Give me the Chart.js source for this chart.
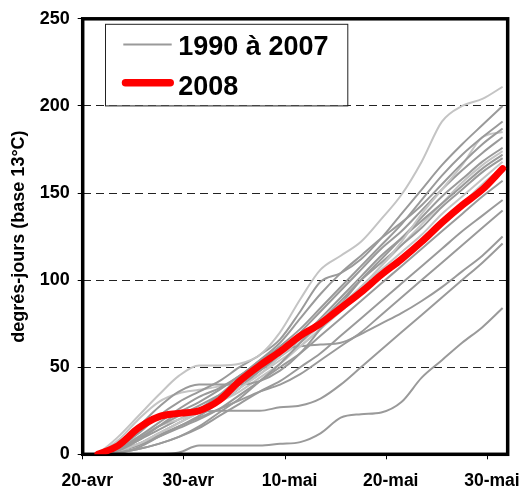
<!DOCTYPE html>
<html><head><meta charset="utf-8">
<script src="https://cdn.jsdelivr.net/npm/chart.js@4"></script>
<style>html,body{margin:0;padding:0;background:#fff;}#wrap{width:527px;height:491px;position:relative;}</style>
</head><body><div id="wrap"><canvas id="c" width="527" height="491"></canvas></div>
<script>
// Days counted from 20 April (0 = 20-avr)
const days = [1.5,3.5,5.5,7.5,9.5,11.5,13.5,15.5,17.5,19.5,21.5,23.5,25.5,27.5,29.5,31.5,33.5,35.5,37.5,39.5,41.5];
const tickValues = [0,10,20,30,40];
const tickLabels = ['20-avr','30-avr','10-mai','20-mai','30-mai'];
const yTickValues = [0,50,100,150,200,250];

const y2008 = [0,5,15,21.5,23.5,25,31,42,51,59,68,75,84,93,103,112,122,133,143,152,164];

const s1  = [0,10,22,34,45,51,51,52,57,70,89,106,114,122,135,149,168,191,200,204,211];
const s2  = [0,4,12,22,30,36,42,50,57,66,82,99,104,112,124,138,152,166,178,189,200];
const s3  = [0,2,8,16,24,30,37,45,53,62,72,84,96,108,120,132,146,160,172,182,191];
const s4  = [0,3,10,18,26,33,38,45,54,64,78,92,104,114,124,133,143,155,167,178,187];
const s5  = [0,2,6,12,18,24,30,38,46,56,66,76,86,96,108,122,138,152,166,182,185];
const s6  = [0,1,4,10,16,22,30,38,48,58,70,82,94,106,118,128,140,152,163,173,182];
const s7  = [0,6,16,27,36,40,40,40,42,48,58,72,86,100,112,124,136,148,158,168,176];
const s8  = [0,3,9,16,22,28,34,40,48,56,66,78,90,102,114,124,134,144,154,164,172];
const s9  = [0,1,3,6,10,16,24,32,42,52,64,76,88,100,110,120,130,142,152,162,170];
const s10 = [0,2,6,12,18,24,30,36,44,52,62,72,84,96,106,116,126,138,148,158,168];
const s11 = [0,4,10,16,20,24,30,38,46,54,62,72,82,92,102,112,122,134,144,155,165];
const s12 = [0,2,5,10,15,20,26,34,42,50,58,68,78,88,98,108,118,128,138,148,157];
const s13 = [0,1,3,6,10,15,22,29,36,42,50,58,68,78,88,98,108,118,128,137,146];
const s14 = [0,2,6,11,16,21,26,31,36,40,46,54,62,70,80,90,100,110,120,130,140];
const s15 = [0,3,8,14,20,26,34,44,54,60,62,63,64,69,75,81,88,96,105,114,125];
const s16 = [0,2,6,12,18,24,25,25,25,27,28,32,40,50,60,70,80,90,100,110,121];
const s17 = [0,0,0,0,1,5,5,5,5,6,7,12,21,23,24,30,44,54,64,73,84];
const s18 = [0,8,20,30,35,37,39,42,48,56,64,74,84,96,108,120,132,144,156,166,174];

const grayYears = [s1,s2,s3,s4,s5,s6,s7,s8,s9,s10,s11,s12,s13,s14,s15,s16,s17,s18];
const grayLabel = '1990 à 2007';
const redLabel = '2008';

// styles
const DARK = '#9a9a9a', LIGHT = '#c4c4c4', RED = '#ff0000';
const lightSet = new Set([0,4,9,10,17]);
const FONT = "'Liberation Sans', Arial, sans-serif";

const toPts = arr => arr.map((v,i)=>({x:days[i], y:v}));

const datasets = [{
  label: redLabel, data: toPts(y2008), borderColor: RED, borderWidth: 7,
  borderCapStyle:'round', borderJoinStyle:'round', pointRadius:0, order:0,
  cubicInterpolationMode:'monotone', fill:false
}];
grayYears.forEach((arr,i)=>{
  datasets.push({label: grayLabel, data: toPts(arr), borderColor: lightSet.has(i)?LIGHT:DARK,
    borderWidth: 2, pointRadius:0, order:1, cubicInterpolationMode:'monotone', fill:false,
    borderJoinStyle:'round'});
});

const framePlugin = {
  id:'frame',
  beforeDatasetDraw(chart, args){
    if (args.index !== 0) return;
    const {ctx, chartArea:a} = chart;
    ctx.save();
    ctx.lineWidth = 3.5; ctx.strokeStyle = '#000';
    ctx.strokeRect(a.left, a.top, a.right-a.left, a.bottom-a.top);
    ctx.restore();
  }
};

const legendPlugin = {
  id:'boxLegend',
  afterDraw(chart){
    const {ctx, chartArea:a} = chart;
    const bx = a.left + 22.3, by = a.top + 5, bw = 242.3, bh = 81.6;
    ctx.save();
    ctx.fillStyle = '#fff'; ctx.fillRect(bx, by, bw, bh);
    ctx.strokeStyle = '#222'; ctx.lineWidth = 1;
    ctx.strokeRect(bx+0.5, by+0.5, bw, bh);
    ctx.lineCap = 'butt';
    ctx.strokeStyle = DARK; ctx.lineWidth = 2;
    ctx.beginPath(); ctx.moveTo(bx+18.3, by+20.6); ctx.lineTo(bx+66.7, by+20.6); ctx.stroke();
    ctx.lineCap = 'round';
    ctx.strokeStyle = RED; ctx.lineWidth = 7.5;
    ctx.beginPath(); ctx.moveTo(bx+20.5, by+59); ctx.lineTo(bx+65.2, by+59); ctx.stroke();
    ctx.fillStyle = '#000';
    ctx.font = "bold 27px " + FONT;
    ctx.textBaseline = 'alphabetic'; ctx.textAlign = 'left';
    ctx.fillText(grayLabel, bx+73.3, by+31);
    ctx.fillText(redLabel, bx+73.3, by+71.6);
    ctx.restore();
  }
};

new Chart(document.getElementById('c').getContext('2d'), {
  type:'line',
  data:{datasets},
  options:{
    responsive:false, animation:false, devicePixelRatio:1,
    layout:{padding:{top:16.7, right:17.6, left:0, bottom:0}},
    plugins:{legend:{display:false}, tooltip:{enabled:false}},
    scales:{
      x:{
        type:'linear', min:0, max:42,
        afterFit(s){ s.height = 36.7; },
        afterBuildTicks(s){ s.ticks = tickValues.map(v=>({value:v})); },
        ticks:{
          callback:(v)=>{ const k = tickValues.indexOf(v); return k>=0 ? tickLabels[k] : ''; },
          font:{family:FONT, size:17.5, weight:'bold'}, color:'#000',
          padding:11, labelOffset:4.5, maxRotation:0, autoSkip:false
        },
        grid:{drawOnChartArea:false, drawTicks:true, tickLength:5, tickColor:'#000', tickWidth:1},
        border:{display:false}
      },
      y:{
        min:0, max:250,
        afterFit(s){ s.width = 82.7; },
        afterBuildTicks(s){ s.ticks = yTickValues.map(v=>({value:v})); },
        ticks:{font:{family:FONT, size:18, weight:'bold'}, color:'#000', padding:8},
        grid:{color:'#222', lineWidth:1, tickLength:5, tickColor:'#000', tickWidth:1, tickBorderDash:[]},
        border:{display:false, dash:[8,5]},
        title:{display:true, text:'degrés-jours (base 13°C)', color:'#000',
          font:{family:FONT, size:18, weight:'bold'}, padding:{top:8, bottom:0}}
      }
    }
  },
  plugins:[framePlugin, legendPlugin]
});
</script></body></html>
